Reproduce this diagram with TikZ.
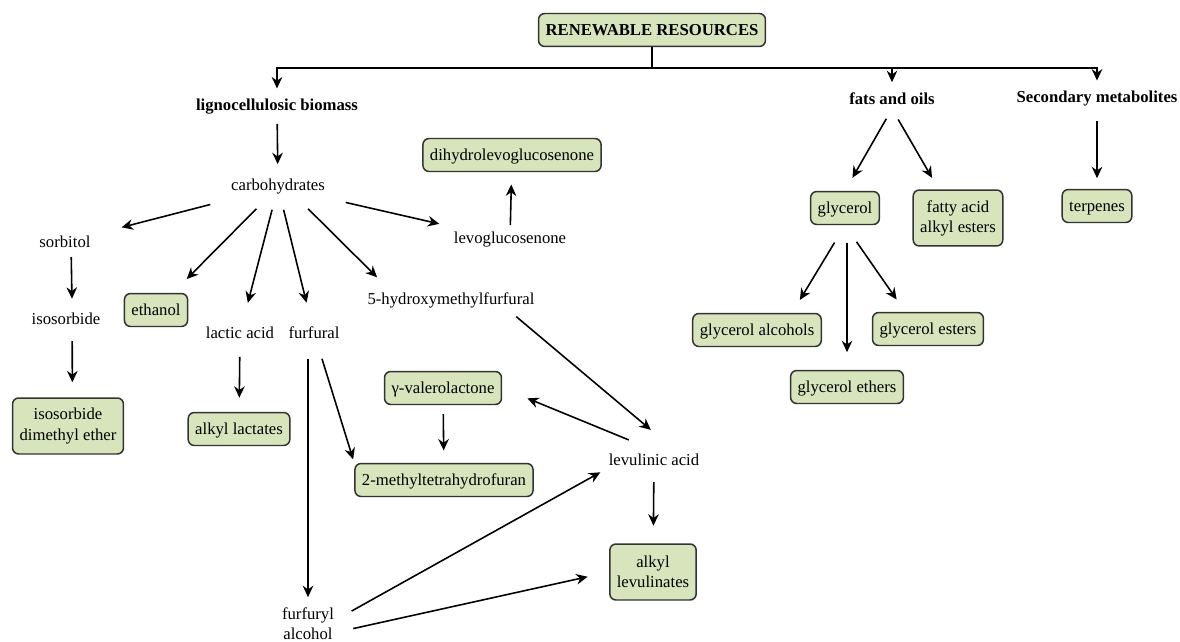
\documentclass[tikz,border=0pt]{standalone}
\usepackage{fontspec}
\setmainfont{Liberation Serif}
\usetikzlibrary{arrows.meta, calc}

\definecolor{prodgreen}{HTML}{D7E4BC}
\newcommand{\chemsize}{\fontsize{9.5}{11.4}\selectfont}

\tikzset{
  chem/.style={inner sep=2pt, align=center, font=\chemsize},
  feed/.style={chem, font=\chemsize\bfseries},
  prod/.style={chem, rectangle, draw=black!80, line width=0.85pt,
               rounded corners=3.5pt, fill=prodgreen,
               inner xsep=4pt, text height=0.9em, text depth=0.22em,
               minimum height=0.66cm},
  tall/.style={prod, text height=, text depth=, minimum height=1.12cm},
  hub/.style={chem, minimum width=2.56cm, minimum height=0.76cm},
  arr/.style={-{Stealth[length=6.5pt, width=6pt]}, line width=0.9pt,
              shorten >=7pt, shorten <=7pt},
  fan/.style={arr, shorten <=2pt},
  drop/.style={arr, shorten <=0pt, shorten >=4pt},
}

\begin{document}
\begin{tikzpicture}[x=0.02cm, y=-0.02cm]
  \useasboundingbox (0,0) rectangle (1180,642);

  % top level
  \node[prod, font=\chemsize\bfseries] (rr) at (652,30) {RENEWABLE RESOURCES};
  \node[feed] (lig) at (277,107) {lignocellulosic biomass};
  \node[feed] (fats) at (892,99) {fats and oils};
  \node[feed] (sec) at (1097,99) {Secondary metabolites};

  \coordinate (bus) at (652,68);
  \draw[line width=0.9pt] (rr) -- (bus);
  \draw[drop] (bus) -| (lig);
  \draw[drop] (bus) -| (fats);
  \draw[drop] (bus) -| (sec);

  % lignocellulosic biomass
  \node[hub] (carb) at (278,187) {carbohydrates};
  \node[chem] (sorb) at (65,242) {sorbitol};
  \node[chem] (isos) at (66,319) {isosorbide};
  \node[tall] (isde) at (68,426) {isosorbide\\dimethyl ether};
  \node[prod] (eth) at (156,310) {ethanol};
  \node[chem] (lact) at (240,333) {lactic acid};
  \node[chem] (furf) at (314,333) {furfural};
  \node[chem] (hmf) at (451,300) {5-hydroxymethylfurfural};
  \node[chem] (levo) at (510,240) {levoglucosenone};
  \node[prod] (dhlg) at (512,155) {dihydrolevoglucosenone};
  \node[prod] (alkl) at (239,429) {alkyl lactates};
  \node[prod] (gvl) at (443,388) {γ-valerolactone};
  \node[prod] (mthf) at (444,480) {2-methyltetrahydrofuran};
  \node[chem] (lev) at (654,460) {levulinic acid};
  \node[tall] (alkv) at (653,572) {alkyl\\levulinates};
  \node[chem] (ffa) at (308,624) {furfuryl\\alcohol};

  \draw[arr, shorten <=3pt, shorten >=2pt] (lig) -- (carb);
  \draw[fan, shorten >=16pt] (carb) -- (sorb);
  \draw[fan, shorten >=11pt] (carb) -- (eth);
  \draw[fan, shorten >=12pt] (carb) -- (lact);
  \draw[fan, shorten >=12pt] (carb) -- (furf);
  \draw[fan, shorten >=9pt] (carb.-35) -- ([xshift=14pt]hmf.north west);
  \draw[fan, shorten >=12pt] (carb) -- (levo);
  \draw[arr, shorten <=2pt] (levo) -- (dhlg);
  \draw[arr, shorten <=3pt, shorten >=6pt] ([xshift=3.5pt]sorb.south) -- ([xshift=3.5pt]isos.north);
  \draw[arr, shorten <=7pt, shorten >=8.5pt] ([xshift=3.5pt]isos.south) -- ([xshift=2.5pt]isde.north);
  \draw[arr, shorten <=8pt, shorten >=8pt] (lact) -- (alkl);
  \draw[arr, shorten <=9pt, shorten >=4pt] (furf.south -| ffa) -- (ffa);
  \draw[arr, shorten <=9.5pt, shorten >=2pt] (furf) -- (mthf.north west);
  \draw[arr, shorten <=5pt, shorten >=7pt] (gvl) -- (mthf);
  \draw[arr, shorten <=4.5pt, shorten >=18pt] ([xshift=-16pt]hmf.south east) -- ([xshift=12pt]lev.north);
  \draw[arr, shorten <=15.5pt, shorten >=15.5pt] (lev.north) -- (gvl.east);
  \draw[arr, shorten <=7pt, shorten >=10pt] (lev) -- (alkv);
  \draw[arr, shorten <=9pt, shorten >=3pt] (ffa.10) -- (lev.south west);
  \draw[arr, shorten <=9pt, shorten >=12.5pt] (ffa.-15) -- (alkv.west);

  % fats and oils, secondary metabolites
  \node[prod] (glyc) at (845,208) {glycerol};
  \node[tall] (faae) at (958,218) {fatty acid\\alkyl esters};
  \node[prod] (terp) at (1097,206) {terpenes};
  \node[prod] (galc) at (757,330) {glycerol alcohols};
  \node[prod] (gest) at (928,329) {glycerol esters};
  \node[prod] (geth) at (847,387) {glycerol ethers};

  \draw[arr, shorten <=6.5pt, shorten >=8.5pt] (fats.south) -- (glyc.north);
  \draw[arr, shorten <=7pt, shorten >=7.5pt] (fats.south) -- ([xshift=-11pt]faae.north);
  \draw[arr, shorten <=6pt, shorten >=6pt] (sec) -- (terp);
  \draw[arr, shorten <=11.5pt, shorten >=8.5pt] (glyc.south) -- ([xshift=20pt]galc.north);
  \draw[arr, shorten <=10pt, shorten >=10pt] (glyc.south -| geth) -- (geth);
  \draw[arr, shorten <=11.5pt, shorten >=8.5pt] (glyc.south) -- ([xshift=-13pt]gest.north);
\end{tikzpicture}
\end{document}
